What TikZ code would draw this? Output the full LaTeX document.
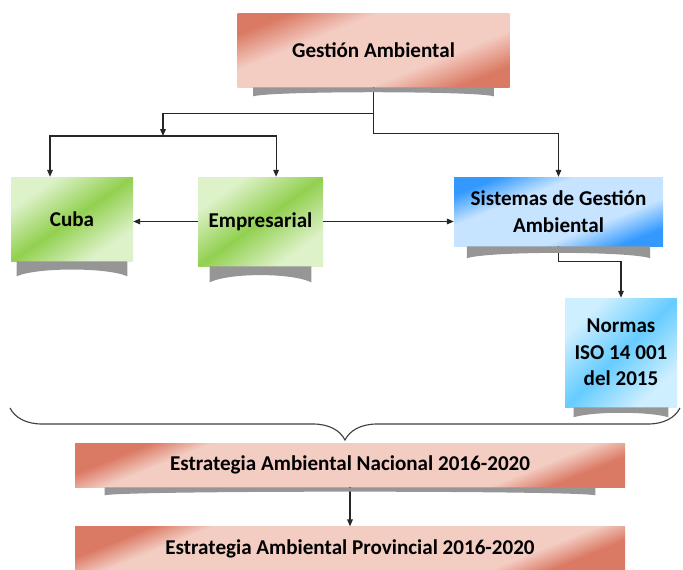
\documentclass[tikz,border=0pt]{standalone}
\usepackage{fontspec}
\setmainfont{Carlito}
\definecolor{salmondark}{RGB}{219, 122, 100}
\definecolor{salmonlight}{RGB}{243, 204, 194}
\definecolor{leafgreen}{RGB}{146, 208, 80}
\definecolor{leaflight}{RGB}{222, 242, 202}
\definecolor{skyblue}{RGB}{51, 153, 255}
\definecolor{skylight}{RGB}{198, 228, 255}
\definecolor{cyanblue}{RGB}{102, 204, 255}
\definecolor{cyanlight}{RGB}{206, 239, 255}
\definecolor{shadowgray}{RGB}{150, 150, 150}
\usetikzlibrary{arrows.meta, positioning, calc, decorations.pathreplacing}
\pgfdeclareverticalshading{redfade}{100bp}{color(0bp)=(salmondark); color(25bp)=(salmondark); color(37.5bp)=(salmonlight); color(62.5bp)=(salmonlight); color(75bp)=(salmondark); color(100bp)=(salmondark)}
\pgfdeclareverticalshading{redthin}{100bp}{color(0bp)=(salmondark); color(25bp)=(salmondark); color(31bp)=(salmonlight); color(69bp)=(salmonlight); color(75bp)=(salmondark); color(100bp)=(salmondark)}
\pgfdeclareverticalshading{greenfade}{100bp}{color(0bp)=(leaflight); color(28bp)=(leaflight); color(50bp)=(leafgreen); color(72bp)=(leaflight); color(100bp)=(leaflight)}
\pgfdeclareverticalshading{bluefade}{100bp}{color(0bp)=(skyblue); color(25bp)=(skyblue); color(38bp)=(skylight); color(62bp)=(skylight); color(75bp)=(skyblue); color(100bp)=(skyblue)}
\pgfdeclareverticalshading{cyanfade}{100bp}{color(0bp)=(cyanlight); color(27bp)=(cyanlight); color(50bp)=(cyanblue); color(73bp)=(cyanlight); color(100bp)=(cyanlight)}
\tikzset{
	box/.style={rectangle, inner sep=2pt, align=center, font=\bfseries\fontsize{15}{19}\selectfont},
	redbox/.style={box, shading=redfade, shading angle=22},
	widebox/.style={box, shading=redthin, shading angle=22},
	greenbox/.style={box, shading=greenfade, shading angle=#1},
	bluebox/.style={box, shading=bluefade, shading angle=22},
	cyanbox/.style={box, shading=cyanfade, shading angle=44},
	line/.style={line width=0.8pt, draw=black!85},
	arrow/.style={line, -{Triangle[length=1.7mm, width=1.4mm]}},
	bracket/.style={line width=0.8pt, draw=black!75, decorate, decoration={brace, amplitude=0.8cm}},
}

\begin{document}
\begin{tikzpicture}
		\useasboundingbox (0,0) rectangle (17.075,-14.25);
		\node[redbox, minimum width=6.8cm, minimum height=1.85cm] (gest) at (9.3375,-1.25) {Gestión Ambiental};
		\node[greenbox=34.5, minimum width=3.05cm, minimum height=2.1cm] (cuba) at (1.8,-5.475) {Cuba};
		\node[greenbox=35.5, minimum width=3.125cm, minimum height=2.225cm] (empr) at (6.5125,-5.5375) {Empresarial};
		\node[bluebox, minimum width=5.225cm, minimum height=1.725cm] (sist) at (13.9625,-5.2875) {Sistemas de Gestión\\Ambiental};
		\node[cyanbox, minimum width=2.8cm, minimum height=2.725cm] (norm) at (15.525,-8.8125) {Normas\\ISO 14 001\\del 2015};
		\node[widebox, minimum width=13.75cm, minimum height=1.1cm] (nac) at (8.75,-11.625) {Estrategia Ambiental Nacional 2016-2020};
		\node[widebox, minimum width=13.75cm, minimum height=1.1cm, below=0.975cm of nac] (prov) {Estrategia Ambiental Provincial 2016-2020};

		% connectors
		\coordinate (jn) at (4.075,-3.4);
		\draw[arrow] (gest.south) -- ++(0,-0.65) -| (jn);
		\draw[arrow] (jn) -| ($(cuba.north)+(-0.55,0)$);
		\draw[arrow] (jn) -| ($(empr.north)+(0.39,0)$);
		\draw[arrow] (gest.south) -- ++(0,-1.15) -| (sist.north);
		\draw[arrow] (empr.west) -- (cuba.east |- empr.west);
		\draw[arrow] (empr.east) -- (sist.west |- empr.east);
		\draw[arrow] (sist.south) -- ++(0,-0.375) -| (norm.north);
		\draw[arrow] (nac.south) -- (prov.north);

		% shadows under the boxes
		\foreach \n/\ins/\dep in {gest/0.4/0.225, cuba/0.15/0.375, empr/0.3/0.4, sist/0.33/0.3, norm/0.22/0.25, nac/0.75/0.2}
			\fill[shadowgray] ($(\n.south west)+(\ins,0)$) -- ($(\n.south east)+(-\ins,0)$) -- ++(0,-\dep)
				.. controls +(-0.5,0.6*\dep) and +(0.5,0.6*\dep) .. ($(\n.south west)+(\ins,-\dep)$) -- cycle;

		% brace
		\coordinate (bl) at (0.25,-10.2);
		\coordinate (br) at (17.0,-10.2);
		\draw[bracket] (br) -- (bl);
	\end{tikzpicture}
\end{document}
